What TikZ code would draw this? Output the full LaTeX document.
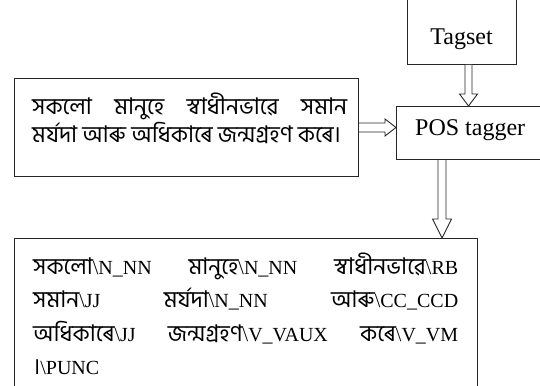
\documentclass[tikz,border=0pt]{standalone}
\usepackage{fontspec}
\setmainfont{Liberation Serif}
\newfontfamily\bnfont[Script=Bengali, Scale=1.15]{Hind Siliguri}
\newcommand{\as}[1]{{\bnfont #1}}
\newcommand{\tg}[1]{\textbackslash #1}
\usetikzlibrary{positioning}

\tikzset{
  box/.style={draw=black!85, line width=1pt, inner sep=0pt},
  flow/.style={draw=black!85, line width=0.9pt, fill=white, line join=miter},
  title/.style={inner sep=0pt, font=\fontsize{24}{28}\selectfont},
  para/.style={inner sep=0pt, align=justify, font=\fontsize{20}{#1}\selectfont},
}

\begin{document}
\begin{tikzpicture}[x=1pt, y=-1pt]
  \useasboundingbox (0,0) rectangle (540,385);
  % boxes
  \node[box, minimum width=109pt, minimum height=100pt, anchor=south west] (tagset) at (407,65) {};
  \node[box, minimum width=170pt, minimum height=53pt, anchor=north west] (tagger) at (396,106) {};
  \node[box, minimum width=344pt, minimum height=98pt, anchor=north west] (input) at (14,78) {};
  \node[box, minimum width=463pt, minimum height=180pt, anchor=north west] (output) at (14,238) {};
  % texts
  \node[title, anchor=base] (tagsetname) at (461.5,45) {Tagset};
  \node[title, anchor=base west] (taggername) at (415,135) {POS tagger};
  \node[para=28, text width=315pt, anchor=north west] (sentence) at (32,93) {%
    \as{সকলো মানুহে স্বাধীনভাৱে সমান}\linebreak
    \as{মৰ্যদা আৰু অধিকাৰে জন্মগ্ৰহণ কৰে।}};
  \node[para=33.5, text width=425pt, anchor=north west] (tagged) at (33,252.5) {%
    \as{সকলো}\tg{N\_NN} \as{মানুহে}\tg{N\_NN} \as{স্বাধীনভাৱে}\tg{RB}\linebreak
    \as{সমান}\tg{JJ} \as{মৰ্যদা}\tg{N\_NN} \as{আৰু}\tg{CC\_CCD}\linebreak
    \as{অধিকাৰে}\tg{JJ} \as{জন্মগ্ৰহণ}\tg{V\_VAUX} \as{কৰে}\tg{V\_VM}\linebreak
    \as{।}\tg{PUNC}};
  % hollow arrows
  \coordinate (tagsetfoot) at ([xshift=6.5pt]tagset.south);
  \coordinate (taggertop) at (tagsetfoot |- tagger.north);
  \coordinate (taggerside) at (input.east -| tagger.west);
  \coordinate (taggerfoot) at ([xshift=46pt]tagger.south west);
  \coordinate (outputtop) at (taggerfoot |- output.north);
  \draw[flow] ([xshift=-3.5pt]tagsetfoot) -- ([xshift=-3.5pt, yshift=12pt]taggertop)
    -- ([xshift=-9pt, yshift=12pt]taggertop) -- (taggertop)
    -- ([xshift=9pt, yshift=12pt]taggertop) -- ([xshift=3.5pt, yshift=12pt]taggertop)
    -- ([xshift=3.5pt]tagsetfoot);
  \draw[flow] ([yshift=4.5pt]input.east) -- ([xshift=-11pt, yshift=4.5pt]taggerside)
    -- ([xshift=-11pt, yshift=8.5pt]taggerside) -- (taggerside)
    -- ([xshift=-11pt, yshift=-8.5pt]taggerside) -- ([xshift=-11pt, yshift=-4.5pt]taggerside)
    -- ([yshift=-4.5pt]input.east);
  \draw[flow] ([xshift=-4pt]taggerfoot) -- ([xshift=-4pt, yshift=19pt]outputtop)
    -- ([xshift=-9.5pt, yshift=19pt]outputtop) -- (outputtop)
    -- ([xshift=9.5pt, yshift=19pt]outputtop) -- ([xshift=4pt, yshift=19pt]outputtop)
    -- ([xshift=4pt]taggerfoot);
\end{tikzpicture}
\end{document}
